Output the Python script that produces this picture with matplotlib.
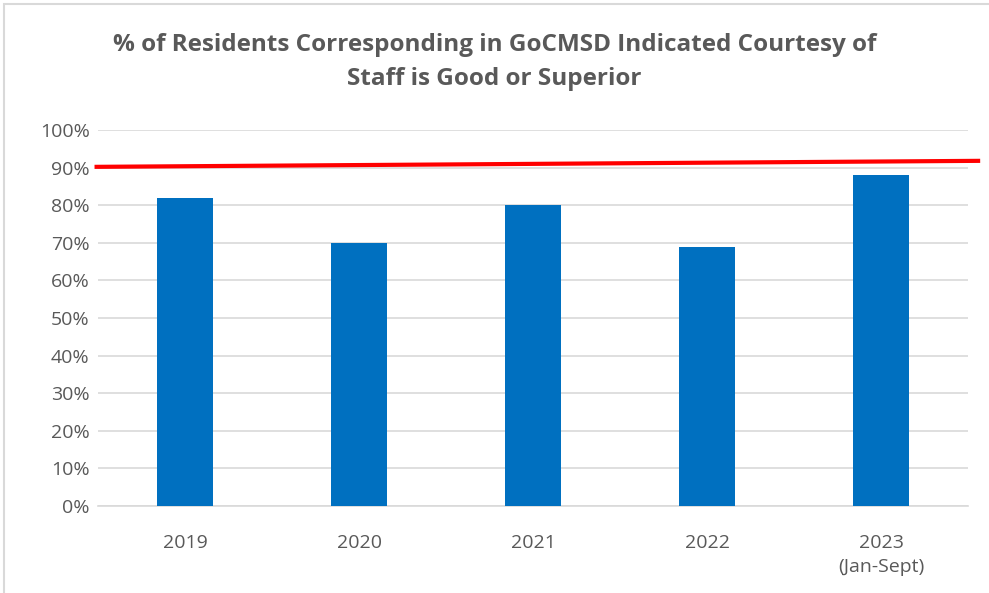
import matplotlib
matplotlib.use("Agg")
import matplotlib.pyplot as plt
from matplotlib.patches import Rectangle
from matplotlib.ticker import FuncFormatter

categories = ["2019", "2020", "2021", "2022", "2023\n(Jan-Sept)"]
values = [82, 70, 80, 69, 88]
target_x = [-0.52, 4.57]
target_y = [90.2, 91.8]

plt.rcParams['font.family'] = ['Open Sans', 'DejaVu Sans']

fig = plt.figure(figsize=(9.89, 5.93), dpi=100)
fig.patches.append(Rectangle((4/989, -0.1), 1.2, 1.1 - 4/593, transform=fig.transFigure,
                             fill=False, edgecolor='#d9d9d9', linewidth=1.5))
ax = fig.add_axes([98/989, 1 - 506/593, 870/989, 376/593])

x = range(len(categories))
ax.bar(x, values, width=0.32, color='#0070c0', zorder=3)
ax.plot(target_x, target_y, color='#ff0000', linewidth=3, clip_on=False, zorder=4,
        solid_capstyle='butt')

ax.set_xlim(-0.5, 4.5)
ax.set_ylim(0, 100)
ax.set_yticks(range(0, 101, 10))
ax.yaxis.set_major_formatter(FuncFormatter(lambda v, p: f"{int(v)}%"))
ax.set_xticks(list(x))
ax.set_xticklabels(categories, linespacing=1.45)
ax.grid(axis='y', color='#d9d9d9', linewidth=1.2, zorder=0)
for s in ['top', 'right', 'left']:
    ax.spines[s].set_visible(False)
ax.spines['bottom'].set_color('#d9d9d9')
ax.spines['bottom'].set_linewidth(1.2)
ax.tick_params(axis='both', length=0, labelsize=14, colors='#595959')
ax.tick_params(axis='x', pad=20)
ax.tick_params(axis='y', pad=6)

fig.text(0.5, 1 - 62/593, "% of Residents Corresponding in GoCMSD Indicated Courtesy of\nStaff is Good or Superior",
         ha='center', va='center', fontsize=17.5, fontweight='bold', color='#595959', linespacing=1.55)

fig.savefig("out.png", dpi=100)
